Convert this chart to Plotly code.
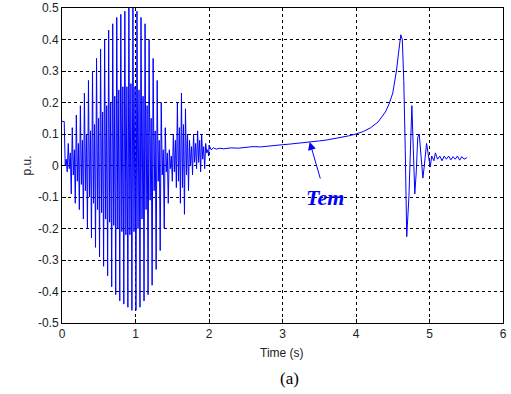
import numpy as np
import plotly.graph_objects as go

# Oscillation envelopes read per cycle (cycle start times t0 + k*dt)
cycle_start = 0.03
cycle_step = 0.055
outer_upper = [0.14, 0.07, 0.12, 0.16, 0.19, 0.23, 0.27, 0.30, 0.34, 0.37, 0.40, 0.43,
               0.45, 0.47, 0.48, 0.49, 0.50, 0.50, 0.49, 0.47, 0.45, 0.40, 0.34, 0.27,
               0.20, 0.12, 0.05, 0.10, 0.20, 0.23, 0.18, 0.08, 0.10, 0.11, 0.10, 0.07]
inner_lower = [0.0, -0.01, -0.03, -0.05, -0.06, -0.08, -0.10, -0.12, -0.14, -0.15, -0.17, -0.18,
               -0.19, -0.20, -0.21, -0.22, -0.22, -0.21, -0.20, -0.17, -0.14, -0.11, -0.08, -0.05,
               -0.03, -0.02, -0.01, -0.02, -0.05, -0.07, -0.03, 0.0, 0.01, 0.01, 0.02, 0.04]
inner_upper = [0.02, 0.04, 0.05, 0.07, 0.08, 0.10, 0.11, 0.13, 0.15, 0.17, 0.19, 0.20,
               0.22, 0.24, 0.25, 0.25, 0.26, 0.25, 0.24, 0.22, 0.19, 0.15, 0.11, 0.08,
               0.05, 0.04, 0.03, 0.08, 0.12, 0.13, 0.10, 0.06, 0.07, 0.08, 0.06, 0.05]
outer_lower = [-0.02, -0.09, -0.12, -0.14, -0.17, -0.20, -0.23, -0.26, -0.29, -0.32, -0.35, -0.385,
               -0.41, -0.43, -0.44, -0.45, -0.46, -0.46, -0.45, -0.43, -0.41, -0.38, -0.33, -0.27,
               -0.20, -0.12, -0.05, -0.07, -0.12, -0.155, -0.08, -0.03, -0.01, -0.02, -0.01, 0.03]
phase_offsets = [0.0, 0.014, 0.028, 0.041]

# Post-oscillation part
tail_t = [2.0, 2.03, 2.06, 2.1, 2.15, 2.2, 2.3, 2.4, 2.5, 2.6, 2.7, 2.8, 2.9, 3.0, 3.1, 3.2,
          3.3, 3.4, 3.5, 3.6, 3.7, 3.8, 3.9, 4.0, 4.1, 4.2, 4.3, 4.4, 4.45, 4.5, 4.55, 4.58,
          4.61, 4.63, 4.65, 4.67, 4.69, 4.72, 4.74, 4.76, 4.78, 4.80, 4.82, 4.84, 4.86, 4.88,
          4.91, 4.93, 4.96, 4.98, 5.01, 5.03, 5.06, 5.08, 5.11, 5.14, 5.17, 5.2, 5.23, 5.26,
          5.29, 5.32, 5.35, 5.38, 5.41, 5.44, 5.47, 5.51]
tail_v = [0.065, 0.05, 0.056, 0.052, 0.055, 0.053, 0.056, 0.055, 0.058, 0.060, 0.059, 0.062,
          0.064, 0.066, 0.068, 0.070, 0.072, 0.075, 0.078, 0.081, 0.085, 0.089, 0.094, 0.100,
          0.108, 0.120, 0.138, 0.170, 0.195, 0.230, 0.300, 0.360, 0.415, 0.400, 0.270, 0.050,
          -0.226, -0.10, 0.08, 0.19, 0.05, -0.09, -0.02, 0.09, 0.10, 0.03, -0.04, 0.0, 0.07,
          0.04, -0.005, 0.03, 0.015, 0.04, 0.02, 0.03, 0.015, 0.03, 0.02, 0.03, 0.018, 0.028,
          0.02, 0.03, 0.017, 0.028, 0.02, 0.025]

x_ticks = [0, 1, 2, 3, 4, 5, 6]
y_ticks = [-0.5, -0.4, -0.3, -0.2, -0.1, 0, 0.1, 0.2, 0.3, 0.4, 0.5]
y_labels = ["-0.5", "-0.4", "-0.3", "-0.2", "-0.1", "0", "0.1", "0.2", "0.3", "0.4", "0.5"]

# assemble the waveform
t_all, v_all = [0.0], [0.14]
for k in range(len(outer_upper)):
    tk = cycle_start + k * cycle_step
    vals = [outer_upper[k], inner_lower[k], inner_upper[k], outer_lower[k]]
    for off, v in zip(phase_offsets, vals):
        t_all.append(tk + off)
        v_all.append(v)
t_all += tail_t
v_all += tail_v

fig = go.Figure()
fig.add_trace(go.Scatter(x=t_all, y=v_all, mode="lines",
                         line=dict(color="#0000ff", width=1), showlegend=False))

axis_common = dict(showline=True, linecolor="black", linewidth=1, mirror=True,
                   showgrid=True, gridcolor="black", griddash="3px,3px", gridwidth=1,
                   zeroline=False, ticks="inside", ticklen=4, tickcolor="black",
                   automargin=False,
                   tickfont=dict(family="Liberation Sans, Arial", size=12, color="#222"))

fig.update_xaxes(range=[0, 6], tickvals=x_ticks, **axis_common)
fig.update_yaxes(range=[-0.5, 0.5], tickvals=y_ticks, ticktext=y_labels, **axis_common)

fig.add_annotation(x=3.37, y=0.075, ax=3.52, ay=-0.046, xref="x", yref="y",
                   axref="x", ayref="y", showarrow=True, arrowhead=2, arrowsize=1.6,
                   arrowwidth=1, arrowcolor="#0000ff", text="")
fig.add_annotation(x=3.58, y=-0.103, xref="x", yref="y", showarrow=False,
                   text="<b><i>Tem</i></b>",
                   font=dict(family="Liberation Serif, Times New Roman", size=22, color="#0000ff"))
fig.add_annotation(x=0.499, y=-0.095, xref="paper", yref="paper", showarrow=False,
                   text="Time (s)", yanchor="middle",
                   font=dict(family="Liberation Sans, Arial", size=12, color="#222"))
fig.add_annotation(x=-0.1, y=0.5, xref="paper", yref="paper", showarrow=False,
                   text="p.u.", textangle=-90,
                   font=dict(family="Liberation Sans, Arial", size=12, color="#222"))
fig.add_annotation(x=0.517, y=-0.175, xref="paper", yref="paper", showarrow=False,
                   text="(a)", yanchor="middle",
                   font=dict(family="Liberation Serif, Times New Roman", size=17, color="black"))

fig.update_layout(width=511, height=394, margin=dict(l=62, r=8, t=8, b=71),
                  plot_bgcolor="white", paper_bgcolor="white")
fig.write_html("out.html", config={"displayModeBar": False},
               post_script="document.body.style.margin='0';document.body.style.overflow='hidden';")
